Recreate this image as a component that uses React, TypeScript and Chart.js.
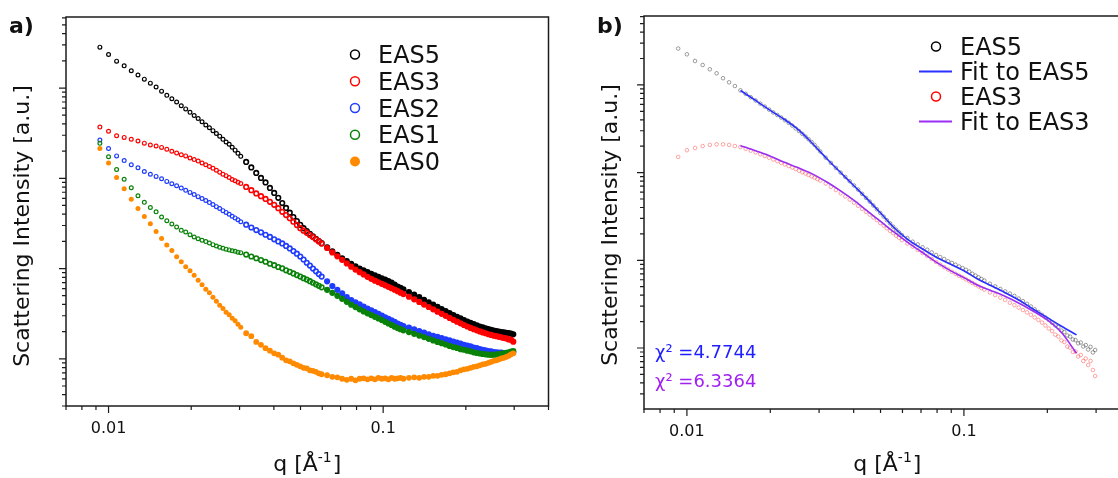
import React, { useEffect, useRef } from 'react';
import { Chart, registerables } from 'chart.js';

Chart.register(...registerables);

const FONT = '"DejaVu Sans", Verdana, sans-serif';

// q grid shared by all measured curves (Å^-1)
const qValues = [
  0.0093, 0.0100, 0.0107, 0.0114, 0.0121, 0.0128, 0.0135, 0.0142, 0.0149, 0.0156, 0.0163, 0.0170, 0.0177, 0.0184, 0.0191, 0.0198,
  0.0205, 0.0212, 0.0219, 0.0226, 0.0233, 0.0240, 0.0247, 0.0254, 0.0261, 0.0268, 0.0275, 0.0282, 0.0289, 0.0296, 0.0303,
  0.0317, 0.0331, 0.0345, 0.0359, 0.0373, 0.0387, 0.0401, 0.0415, 0.0429, 0.0443, 0.0457, 0.0471, 0.0485, 0.0499, 0.0513,
  0.0527, 0.0541, 0.0555, 0.0569, 0.0583, 0.0597,
  0.0625, 0.0653, 0.0681, 0.0709, 0.0737, 0.0765, 0.0793, 0.0821, 0.0849, 0.0877, 0.0905, 0.0933, 0.0961, 0.0989, 0.1017,
  0.1045, 0.1073, 0.1101, 0.1129, 0.1157, 0.1185,
  0.1241, 0.1297, 0.1353, 0.1409, 0.1465, 0.1521, 0.1577, 0.1633, 0.1689, 0.1745, 0.1801, 0.1857, 0.1913, 0.1969, 0.2025,
  0.2081, 0.2137, 0.2193, 0.2249, 0.2305, 0.2361, 0.2417, 0.2473, 0.2529, 0.2585, 0.2641, 0.2697, 0.2753, 0.2809, 0.2865,
  0.2921, 0.2977,
];

// panel a) scattering intensities (a.u.)
const eas5A = [
  2837, 2356, 1985, 1761, 1554, 1393, 1254, 1133, 1028, 924, 830, 761, 701, 637, 587, 538, 497, 459, 423, 389, 363, 337, 314,
  293, 270, 252, 238, 221, 205, 189, 175,
  151.9, 132.0, 114.8, 101.0, 90.1, 78.3, 68.9, 60.7, 53.2, 47.0, 41.6, 37.2, 33.6, 30.5, 28.0, 26.0, 24.3, 22.8, 21.4, 20.2, 19.1,
  17.2, 15.5, 14.2, 13.0, 12.1, 11.3, 10.6, 10.0, 9.55, 9.12, 8.74, 8.41, 8.09, 7.81, 7.54, 7.25, 6.98, 6.65, 6.32, 6.11, 5.88,
  5.49, 5.14, 4.82, 4.51, 4.22, 3.98, 3.77, 3.56, 3.37, 3.21, 3.05, 2.92, 2.80, 2.69, 2.59, 2.50, 2.42, 2.35, 2.28, 2.23, 2.18,
  2.13, 2.09, 2.05, 2.03, 2.00, 1.98, 1.96, 1.94, 1.93, 1.90, 1.87,
];
const eas3A = [
  369, 332, 296, 284, 271, 259, 245, 234, 228, 220, 210, 199, 191, 182, 177, 168, 161, 155, 148, 141, 135, 129, 123, 117, 111,
  107, 102, 97.0, 93.8, 90.5, 87.6,
  80.3, 73.8, 68.0, 63.3, 59.0, 54.8, 50.8, 46.7, 42.5, 39.1, 36.1, 33.0, 30.3, 28.0, 26.3, 24.9, 23.5, 22.3, 21.1, 20.0, 18.9,
  16.9, 15.1, 13.65, 12.5, 11.4, 10.5, 9.75, 9.12, 8.60, 8.09, 7.69, 7.33, 7.05, 6.77, 6.52, 6.27, 6.05, 5.83, 5.61, 5.40, 5.21,
  4.87, 4.56, 4.27, 3.99, 3.75, 3.53, 3.33, 3.15, 2.99, 2.84, 2.70, 2.58, 2.47, 2.37, 2.28, 2.20, 2.13, 2.07, 2.01, 1.96, 1.92,
  1.87, 1.84, 1.80, 1.78, 1.75, 1.73, 1.70, 1.68, 1.64, 1.63, 1.55,
];
const eas2A = [
  266, 214, 177, 157, 141, 131, 119, 111, 105, 99.0, 92.4, 86.9, 82.8, 77.9, 73.5, 69.8, 66.0, 62.6, 59.6, 56.8, 53.8, 51.3,
  48.5, 46.3, 43.8, 41.9, 40.0, 38.0, 36.4, 34.7, 33.0,
  30.6, 28.5, 26.7, 25.2, 23.7, 22.4, 21.1, 20.0, 19.0, 17.8, 16.7, 15.6, 14.6, 13.6, 12.6, 11.6, 10.8, 10.0, 9.31, 8.69, 8.15,
  7.21, 6.40, 5.81, 5.31, 4.83, 4.48, 4.22, 4.00, 3.80, 3.61, 3.44, 3.29, 3.14, 3.01, 2.88, 2.77, 2.66, 2.56, 2.46, 2.38, 2.31,
  2.22, 2.12, 2.03, 1.95, 1.87, 1.80, 1.75, 1.70, 1.64, 1.60, 1.55, 1.51, 1.47, 1.43, 1.40, 1.37, 1.33, 1.31, 1.28, 1.26, 1.24,
  1.22, 1.21, 1.19, 1.18, 1.17, 1.17, 1.16, 1.16, 1.16, 1.17, 1.18,
];
const eas1A = [
  244, 173, 125, 97.7, 78.7, 64.0, 54.1, 47.5, 42.5, 37.2, 33.9, 31.2, 28.9, 26.5, 25.4, 23.7, 22.4, 21.4, 20.6, 19.9, 19.2,
  18.4, 17.8, 17.2, 16.8, 16.4, 16.1, 15.7, 15.5, 15.2, 15.0,
  14.3, 13.6, 13.0, 12.4, 11.9, 11.3, 10.9, 10.4, 10.05, 9.55, 9.19, 8.83, 8.47, 8.15, 7.83, 7.54, 7.25, 6.96, 6.68, 6.43, 6.19,
  5.81, 5.38, 4.99, 4.62, 4.28, 3.98, 3.74, 3.53, 3.35, 3.19, 3.05, 2.92, 2.80, 2.69, 2.57, 2.46, 2.37, 2.27, 2.19, 2.13, 2.07,
  1.98, 1.89, 1.81, 1.74, 1.665, 1.60, 1.54, 1.49, 1.44, 1.39, 1.35, 1.32, 1.28, 1.26, 1.23, 1.21, 1.18, 1.16, 1.145, 1.13,
  1.12, 1.11, 1.107, 1.11, 1.116, 1.124, 1.136, 1.15, 1.165, 1.18, 1.20, 1.22,
];
const eas0A = [
  214, 148, 102, 76.7, 58.5, 46.4, 37.8, 31.3, 25.8, 21.5, 18.2, 15.8, 13.5, 11.9, 10.5, 9.43, 8.41, 7.40, 6.60, 5.88, 5.38,
  4.80, 4.33, 3.91, 3.62, 3.27, 3.07, 2.81, 2.64, 2.41, 2.23,
  1.92, 1.78, 1.54, 1.43, 1.31, 1.23, 1.15, 1.11, 1.03, 0.963, 0.938, 0.892, 0.858, 0.826, 0.795, 0.785, 0.746, 0.736, 0.718,
  0.691, 0.674,
  0.657, 0.632, 0.624, 0.601, 0.585, 0.601, 0.578, 0.601, 0.608, 0.593, 0.608, 0.593, 0.616, 0.601, 0.608, 0.593, 0.616, 0.601,
  0.608, 0.616, 0.601,
  0.616, 0.624, 0.616, 0.632, 0.632, 0.648, 0.648, 0.665, 0.674, 0.691, 0.709, 0.718, 0.746, 0.765, 0.775, 0.795, 0.815, 0.826,
  0.847, 0.869, 0.880, 0.903, 0.926, 0.950, 0.963, 0.987, 1.013, 1.026, 1.052, 1.080, 1.121, 1.15,
];

// panel b) data and model fits
const eas5B = [
  2601, 2234, 1874, 1687, 1507, 1357, 1193, 1071, 972, 868, 792, 724, 664, 612, 566, 523, 486, 454, 424, 396, 370, 344, 319,
  298, 277, 258, 240, 223, 207, 190, 174,
  148, 129, 113, 100, 89.3, 79.8, 71.3, 64.0, 57.3, 51.6, 46.7, 42.2, 38.2, 34.6, 31.5, 28.7, 26.4, 24.2, 22.4, 20.8, 19.4,
  17.9, 16.3, 15.2, 14.1, 13.2, 12.3, 11.5, 10.9, 10.35, 9.74, 9.32, 8.89, 8.50, 8.13, 7.79, 7.43, 7.02, 6.69, 6.40, 6.12, 5.87,
  5.40, 5.04, 4.71, 4.42, 4.17, 3.92, 3.66, 3.42, 3.19, 2.97, 2.76, 2.57, 2.39, 2.23, 2.09, 1.94, 1.81, 1.73, 1.58, 1.52, 1.39,
  1.35, 1.25, 1.23, 1.13, 1.155, 1.04, 1.08, 0.961, 1.03, 0.889, 0.949,
];
const eas3B = [
  151, 180, 191, 201, 207, 210, 210, 207, 201, 196, 187, 178, 170, 162, 155, 148, 141, 135, 129, 124, 119, 114, 110, 105, 101,
  97.7, 93.9, 90.5, 87.3, 84.1, 81.1,
  75.1, 68.9, 63.3, 58.1, 53.4, 49.2, 45.4, 41.8, 38.6, 35.7, 33.2, 30.8, 28.7, 26.6, 24.9, 23.2, 21.7, 20.4, 19.1, 18.1, 17.0,
  15.5, 14.3, 13.1, 12.1, 11.2, 10.35, 9.57, 8.93, 8.34, 7.83, 7.39, 7.02, 6.66, 6.37, 6.06, 5.78, 5.51, 5.26, 5.04, 4.83, 4.63,
  4.30, 4.02, 3.76, 3.53, 3.28, 3.08, 2.89, 2.71, 2.55, 2.39, 2.23, 2.09, 1.95, 1.81, 1.67, 1.56, 1.42, 1.35, 1.22, 1.17, 1.04,
  1.01, 0.900, 0.912, 0.800, 0.832, 0.711, 0.759, 0.640, 0.711, 0.561, 0.479,
];
const fitQ = [
  0.0156, 0.018, 0.02, 0.0225, 0.025, 0.028, 0.032, 0.036, 0.04, 0.045, 0.05, 0.056, 0.063, 0.07, 0.08, 0.09, 0.1, 0.112,
  0.125, 0.14, 0.16, 0.18, 0.2, 0.225, 0.255,
];
const fitEas5 = [
  863, 642, 512, 403, 317, 225, 144, 99.0, 71.3, 49.2, 34.6, 23.5, 17.1, 13.8, 10.7, 8.96, 7.59, 6.12, 5.15, 4.32, 3.44, 2.71,
  2.22, 1.77, 1.41,
];
const fitEas3 = [
  203, 174, 154, 131, 115, 98.7, 78.1, 61.5, 48.6, 36.1, 27.8, 20.9, 15.8, 12.6, 9.39, 7.53, 6.35, 5.20, 4.53, 3.92, 3.18, 2.57,
  2.09, 1.50, 0.870,
];

// axis ticks and texts
const xTickValues = [0.007, 0.008, 0.009, 0.01, 0.02, 0.03, 0.04, 0.05, 0.06, 0.07, 0.08, 0.09, 0.1, 0.2, 0.3, 0.4];
const xTickLabels = [
  { value: 0.01, text: '0.01' },
  { value: 0.1, text: '0.1' },
];
const yAxisTitle = 'Scattering Intensity [a.u.]';
const legendA = ['EAS5', 'EAS3', 'EAS2', 'EAS1', 'EAS0'];
const legendB = ['EAS5', 'Fit to EAS5', 'EAS3', 'Fit to EAS3'];
const chiLabels = ['χ² =4.7744', 'χ² =6.3364'];

const pts = (xs: number[], ys: number[]) => xs.map((x, i) => ({ x, y: ys[i] }));

type LegendEntry = { text: string; kind: 'open' | 'filled' | 'line'; color: string };
type Decor = {
  panel: string;
  panelX: number;
  yTitleX: number;
  yTitleY: number;
  legend: LegendEntry[];
  markerX: number;
  textX: number;
  base0: number;
  step: number;
  chi?: { text: string; color: string; baseline: number }[];
  chiX?: number;
};

function decorPlugin(d: Decor) {
  return {
    id: 'decor',
    afterDraw(chart: any) {
      const { ctx, chartArea: ca } = chart;
      const xs = chart.scales.x;
      const ys = chart.scales.y;
      ctx.save();
      ctx.strokeStyle = '#1c1c1c';
      ctx.lineWidth = 1.5;
      ctx.strokeRect(ca.left, ca.top, ca.right - ca.left, ca.bottom - ca.top);

      ctx.lineWidth = 1.2;
      ctx.beginPath();
      const e0 = Math.floor(Math.log10(ys.min));
      const e1 = Math.ceil(Math.log10(ys.max));
      for (let e = e0; e <= e1; e++) {
        for (let m = 1; m <= 9; m++) {
          const v = m * Math.pow(10, e);
          if (v < ys.min || v > ys.max) continue;
          const y = ys.getPixelForValue(v);
          ctx.moveTo(ca.left, y);
          ctx.lineTo(ca.left - (m === 1 ? 7 : 4), y);
        }
      }
      for (const v of xTickValues) {
        const x = xs.getPixelForValue(v);
        const lg = Math.log10(v);
        const major = Math.abs(lg - Math.round(lg)) < 1e-9;
        ctx.moveTo(x, ca.bottom);
        ctx.lineTo(x, ca.bottom + (major ? 7 : 4));
      }
      ctx.stroke();

      ctx.fillStyle = '#111';
      ctx.textBaseline = 'alphabetic';
      ctx.textAlign = 'center';
      ctx.font = `16px ${FONT}`;
      for (const t of xTickLabels) {
        ctx.fillText(t.text, xs.getPixelForValue(t.value), ca.bottom + 27);
      }

      // x title: q [Å^-1]
      const cx = (ca.left + ca.right) / 2;
      const by = 471;
      ctx.textAlign = 'left';
      ctx.font = `22px ${FONT}`;
      const p1 = 'q [Å';
      const w1 = ctx.measureText(p1).width;
      const w3 = ctx.measureText(']').width;
      ctx.font = `14px ${FONT}`;
      const w2 = ctx.measureText('-1').width;
      let x = cx - (w1 + w2 + w3 + 1) / 2;
      ctx.font = `22px ${FONT}`;
      ctx.fillText(p1, x, by);
      x += w1;
      ctx.font = `14px ${FONT}`;
      ctx.fillText('-1', x, by - 9);
      x += w2 + 1;
      ctx.font = `22px ${FONT}`;
      ctx.fillText(']', x, by);

      // y title
      ctx.save();
      ctx.translate(d.yTitleX, d.yTitleY);
      ctx.rotate(-Math.PI / 2);
      ctx.textAlign = 'center';
      ctx.font = `22px ${FONT}`;
      ctx.fillText(yAxisTitle, 0, 0);
      ctx.restore();

      // panel label
      ctx.textAlign = 'left';
      ctx.font = `bold 22px ${FONT}`;
      ctx.fillText(d.panel, d.panelX, 33);

      // legend
      ctx.font = `24px ${FONT}`;
      d.legend.forEach((it, i) => {
        const b = d.base0 + i * d.step;
        const my = b - 8.5;
        if (it.kind === 'open') {
          ctx.beginPath();
          ctx.arc(d.markerX, my, 4.5, 0, Math.PI * 2);
          ctx.strokeStyle = it.color;
          ctx.lineWidth = 1.5;
          ctx.stroke();
        } else if (it.kind === 'filled') {
          ctx.beginPath();
          ctx.arc(d.markerX, my, 5, 0, Math.PI * 2);
          ctx.fillStyle = it.color;
          ctx.fill();
        } else {
          ctx.beginPath();
          ctx.moveTo(d.markerX - 17, my);
          ctx.lineTo(d.markerX + 16, my);
          ctx.strokeStyle = it.color;
          ctx.lineWidth = 2;
          ctx.stroke();
        }
        ctx.fillStyle = '#111';
        ctx.fillText(it.text, d.textX, b);
      });

      if (d.chi) {
        ctx.font = `18px ${FONT}`;
        for (const c of d.chi) {
          ctx.fillStyle = c.color;
          ctx.fillText(c.text, d.chiX || 0, c.baseline);
        }
      }
      ctx.restore();
    },
  };
}

type PanelProps = {
  left: number;
  width: number;
  datasets: any[];
  yMin: number;
  yMax: number;
  padding: { left: number; right: number; top: number; bottom: number };
  decor: Decor;
};

function Panel({ left, width, datasets, yMin, yMax, padding, decor }: PanelProps) {
  const ref = useRef<HTMLCanvasElement>(null);
  useEffect(() => {
    const chart = new Chart(ref.current as HTMLCanvasElement, {
      type: 'scatter',
      data: { datasets },
      options: {
        responsive: false,
        animation: false,
        events: [],
        devicePixelRatio: 1,
        layout: { padding },
        scales: {
          x: { type: 'logarithmic', min: 0.007, max: 0.4, display: false },
          y: { type: 'logarithmic', min: yMin, max: yMax, display: false },
        },
        plugins: { legend: { display: false }, tooltip: { enabled: false } },
      } as any,
      plugins: [decorPlugin(decor)],
    });
    return () => chart.destroy();
  }, []);
  return (
    <canvas
      ref={ref}
      width={width}
      height={478}
      style={{ position: 'absolute', left, top: 0, width, height: 478 }}
    />
  );
}

const qOf = (c: any) => (c && c.raw ? c.raw.x : 0);

const openPts = (label: string, data: number[], color: string, order: number) => ({
  label,
  data: pts(qValues, data),
  showLine: false,
  pointStyle: 'circle',
  pointRadius: (c: any) => (qOf(c) >= 0.031 ? 2.3 : 1.9),
  pointBorderWidth: (c: any) => (qOf(c) >= 0.031 ? 1.6 : 1.2),
  pointBorderColor: color,
  pointBackgroundColor: (c: any) => (qOf(c) >= 0.06 ? color : 'rgba(0,0,0,0)'),
  order,
});

export default function App() {
  const datasetsA = [
    openPts('EAS5', eas5A, '#000000', 5),
    openPts('EAS3', eas3A, '#ff0000', 4),
    openPts('EAS2', eas2A, '#1f3cff', 3),
    openPts('EAS1', eas1A, '#0a820a', 2),
    {
      label: 'EAS0',
      data: pts(qValues, eas0A),
      showLine: false,
      pointStyle: 'circle',
      pointRadius: (c: any) => (qOf(c) >= 0.031 ? 2.9 : 2.5),
      pointBorderWidth: 0,
      pointBackgroundColor: '#ff8a00',
      order: 1,
    },
  ];
  const datasetsB = [
    {
      label: 'EAS5',
      data: pts(qValues, eas5B),
      showLine: false,
      pointRadius: 1.8,
      pointBorderWidth: 0.9,
      pointBorderColor: 'rgba(60,60,60,0.55)',
      pointBackgroundColor: 'rgba(0,0,0,0)',
      order: 4,
    },
    {
      label: 'EAS3',
      data: pts(qValues, eas3B),
      showLine: false,
      pointRadius: 1.8,
      pointBorderWidth: 0.9,
      pointBorderColor: 'rgba(255,60,60,0.5)',
      pointBackgroundColor: 'rgba(0,0,0,0)',
      order: 3,
    },
    {
      label: 'Fit to EAS5',
      data: pts(fitQ, fitEas5),
      showLine: true,
      fill: false,
      pointRadius: 0,
      borderColor: '#2a30ff',
      borderWidth: 1.6,
      cubicInterpolationMode: 'monotone',
      order: 2,
    },
    {
      label: 'Fit to EAS3',
      data: pts(fitQ, fitEas3),
      showLine: true,
      fill: false,
      pointRadius: 0,
      borderColor: '#9a2ef5',
      borderWidth: 1.6,
      cubicInterpolationMode: 'monotone',
      order: 1,
    },
  ];

  const decorA: Decor = {
    panel: 'a)',
    panelX: 9,
    yTitleX: 29,
    yTitleY: 226,
    legend: [
      { text: legendA[0], kind: 'open', color: '#000000' },
      { text: legendA[1], kind: 'open', color: '#ff0000' },
      { text: legendA[2], kind: 'open', color: '#1f3cff' },
      { text: legendA[3], kind: 'open', color: '#0a820a' },
      { text: legendA[4], kind: 'filled', color: '#ff8a00' },
    ],
    markerX: 355,
    textX: 378,
    base0: 63,
    step: 26.75,
  };
  const decorB: Decor = {
    panel: 'b)',
    panelX: 37,
    yTitleX: 57,
    yTitleY: 225,
    legend: [
      { text: legendB[0], kind: 'open', color: '#000000' },
      { text: legendB[1], kind: 'line', color: '#2a30ff' },
      { text: legendB[2], kind: 'open', color: '#ff0000' },
      { text: legendB[3], kind: 'line', color: '#9a2ef5' },
    ],
    markerX: 376,
    textX: 400,
    base0: 55,
    step: 25,
    chi: [
      { text: chiLabels[0], color: '#2020ff', baseline: 358 },
      { text: chiLabels[1], color: '#a020f0', baseline: 386.5 },
    ],
    chiX: 95,
  };

  return (
    <div
      style={{
        position: 'fixed',
        left: 0,
        top: 0,
        width: 1118,
        height: 478,
        overflow: 'hidden',
        background: '#ffffff',
      }}
    >
      <Panel
        left={0}
        width={560}
        datasets={datasetsA}
        yMin={0.3016}
        yMax={6124}
        padding={{ left: 66, right: 11.5, top: 17, bottom: 72 }}
        decor={decorA}
      />
      <Panel
        left={560}
        width={590}
        datasets={datasetsB}
        yMin={0.2015}
        yMax={6109}
        padding={{ left: 84, right: 19.3, top: 16, bottom: 69 }}
        decor={decorB}
      />
    </div>
  );
}
